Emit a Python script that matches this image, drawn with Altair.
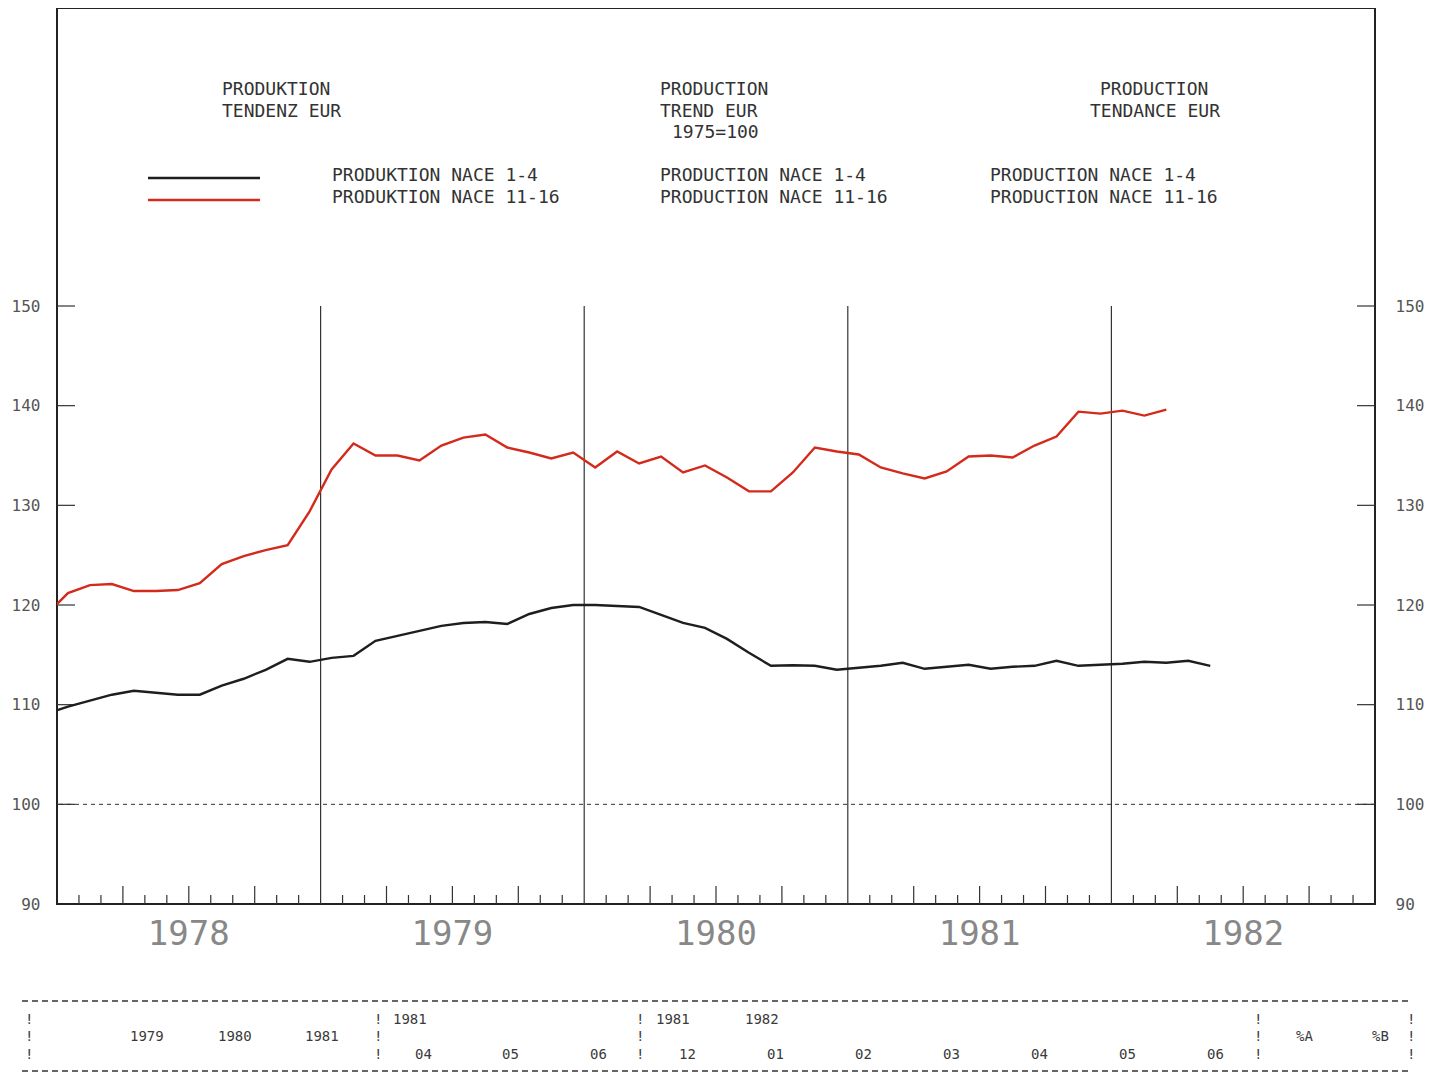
import altair as alt
import pandas as pd

# ---------------- data (monthly, starting Dec 1977, mid-month points) ----------------
red_values = [
    119.0,
    121.2, 122.0, 122.1, 121.4, 121.4, 121.5, 122.2, 124.1, 124.9, 125.5, 126.0, 129.4,
    133.6, 136.2, 135.0, 135.0, 134.5, 136.0, 136.8, 137.1, 135.8, 135.3, 134.7, 135.3,
    133.8, 135.4, 134.2, 134.9, 133.3, 134.0, 132.8, 131.4, 131.4, 133.3, 135.8, 135.4,
    135.1, 133.8, 133.2, 132.7, 133.4, 134.9, 135.0, 134.8, 136.0, 136.9, 139.4, 139.2,
    139.5, 139.0, 139.6,
]
black_values = [
    109.1,
    109.8, 110.4, 111.0, 111.4, 111.2, 111.0, 111.0, 111.9, 112.6, 113.5, 114.6, 114.3,
    114.7, 114.9, 116.4, 116.9, 117.4, 117.9, 118.2, 118.3, 118.1, 119.1, 119.7, 120.0,
    120.0, 119.9, 119.8, 119.0, 118.2, 117.7, 116.6, 115.2, 113.9, 113.95, 113.9, 113.5,
    113.7, 113.9, 114.2, 113.6, 113.8, 114.0, 113.6, 113.8, 113.9, 114.4, 113.9, 114.0,
    114.1, 114.3, 114.2, 114.4, 113.9,
]
series_names = ["PRODUKTION NACE 1-4", "PRODUKTION NACE 11-16"]
series_colors = ["#1e1e1e", "#d42a1c"]

y_tick_values = [90, 100, 110, 120, 130, 140, 150]
y_inner_ticks = [100, 110, 120, 130, 140, 150]
year_labels = [1978, 1979, 1980, 1981, 1982]
year_lines = [1979, 1980, 1981, 1982]


def month_pos(i):
    # i = 0 -> Dec 1977 (mid-month)
    return 1977 + (11 + i + 0.5) / 12


rows = []
for i, v in enumerate(black_values):
    rows.append({"t": month_pos(i), "v": v, "series": series_names[0]})
for i, v in enumerate(red_values):
    rows.append({"t": month_pos(i), "v": v, "series": series_names[1]})
df = pd.DataFrame(rows)

small_ticks = [y + m / 12 for y in year_labels for m in range(1, 12) if m % 3 != 0]
long_ticks = [y + m / 12 for y in year_labels for m in range(1, 12) if m % 3 == 0]

# ---------------- layout ----------------
W, H = 1318, 896
MONO = "DejaVu Sans Mono"
xscale = alt.Scale(domain=[1978, 1983], nice=False, zero=False)
yscale = alt.Scale(domain=[90, 179.9], nice=False, zero=False)
anchor = pd.DataFrame({"a": [0]})


def txt(s, x, y, size=18, color="#333333", align="left"):
    return alt.Chart(anchor).mark_text(
        align=align, baseline="middle", fontSize=size, font=MONO, color=color
    ).encode(x=alt.value(x), y=alt.value(y), text=alt.value(s))


dashed100 = alt.Chart(pd.DataFrame({"v": [100]})).mark_rule(
    strokeDash=[4, 4], color="#333333", strokeWidth=1
).encode(y=alt.Y("v:Q", scale=yscale, axis=None))

year_rules = alt.Chart(pd.DataFrame({"t": year_lines, "lo": [90] * 4, "hi": [150] * 4})).mark_rule(
    color="#333333", strokeWidth=1.2
).encode(
    x=alt.X("t:Q", scale=xscale, axis=None),
    y=alt.Y("lo:Q", scale=yscale, axis=None),
    y2="hi:Q",
)

small_tick_layer = alt.Chart(pd.DataFrame({"t": small_ticks})).mark_rule(
    color="#333333", strokeWidth=1.2
).encode(x=alt.X("t:Q", scale=xscale, axis=None), y=alt.value(H), y2=alt.value(H - 9))

long_tick_layer = alt.Chart(pd.DataFrame({"t": long_ticks})).mark_rule(
    color="#333333", strokeWidth=1.2
).encode(x=alt.X("t:Q", scale=xscale, axis=None), y=alt.value(H), y2=alt.value(H - 18))

# year labels under the frame, positioned through the x scale
year_text = alt.Chart(pd.DataFrame({"t": [y + 0.5 for y in year_labels],
                                    "lab": [str(y) for y in year_labels]})).mark_text(
    align="center", baseline="middle", fontSize=34, font=MONO, color="#888888"
).encode(x=alt.X("t:Q", scale=xscale, axis=None), y=alt.value(H + 31), text="lab:N")

axis_common = dict(
    values=y_tick_values, ticks=False, domain=False, grid=False, title=None,
    labelFont=MONO, labelFontSize=16, labelColor="#555555", labelFlush=False,
    labelOverlap=False,
)

left_ticks = alt.Chart(pd.DataFrame({"v": y_inner_ticks})).mark_rule(
    color="#333333", strokeWidth=1.2
).encode(
    y=alt.Y("v:Q", scale=yscale, axis=alt.Axis(orient="left", labelPadding=17, **axis_common)),
    x=alt.value(0), x2=alt.value(18),
)

right_ticks = alt.Chart(pd.DataFrame({"v": y_inner_ticks})).mark_rule(
    color="#333333", strokeWidth=1.2
).encode(
    y=alt.Y("v:Q", scale=yscale, axis=alt.Axis(orient="right", labelPadding=20, **axis_common)),
    x=alt.value(W - 18), x2=alt.value(W),
)

lines = alt.Chart(df).mark_line(strokeWidth=2.4, clip=True).encode(
    x=alt.X("t:Q", scale=xscale, axis=None),
    y=alt.Y("v:Q", scale=yscale, axis=None),
    color=alt.Color("series:N", scale=alt.Scale(domain=series_names, range=series_colors), legend=None),
    detail="series:N",
)

legend_black = alt.Chart(anchor).mark_rule(color=series_colors[0], strokeWidth=2.5).encode(
    x=alt.value(91), x2=alt.value(203), y=alt.value(170))
legend_red = alt.Chart(anchor).mark_rule(color=series_colors[1], strokeWidth=2.5).encode(
    x=alt.value(91), x2=alt.value(203), y=alt.value(192))

texts = [
    txt("PRODUKTION", 165, 82), txt("TENDENZ EUR", 165, 104),
    txt("PRODUCTION", 603, 82), txt("TREND EUR", 603, 104), txt("1975=100", 615, 125),
    txt("PRODUCTION", 1043, 82), txt("TENDANCE EUR", 1033, 104),
    txt("PRODUKTION NACE 1-4", 275, 168), txt("PRODUKTION NACE 11-16", 275, 190),
    txt("PRODUCTION NACE 1-4", 603, 168), txt("PRODUCTION NACE 11-16", 603, 190),
    txt("PRODUCTION NACE 1-4", 933, 168), txt("PRODUCTION NACE 11-16", 933, 190),
]

# ---------------- bottom table (plotter printout) ----------------
TY = [1012, 1029, 1047]
table_cells = []
for col in [-32, 317, 579, 1197, 1350]:
    for ty in TY:
        table_cells.append(("!", col, ty))
table_cells += [
    ("1981", 336, TY[0]), ("1981", 599, TY[0]), ("1982", 688, TY[0]),
    ("1979", 73, TY[1]), ("1980", 161, TY[1]), ("1981", 248, TY[1]),
    ("%A", 1239, TY[1]), ("%B", 1315, TY[1]),
]
for lab, col in zip(["04", "05", "06", "12", "01", "02", "03", "04", "05", "06"],
                    [358, 445, 533, 622, 710, 798, 886, 974, 1062, 1150]):
    table_cells.append((lab, col, TY[2]))
table_texts = [txt(s, x, y, size=14, color="#3a3a3a") for s, x, y in table_cells]

dash_top = alt.Chart(anchor).mark_rule(color="#333333", strokeWidth=1.5, strokeDash=[6, 4]).encode(
    x=alt.value(-35), x2=alt.value(1355), y=alt.value(993))
dash_bot = alt.Chart(anchor).mark_rule(color="#333333", strokeWidth=1.5, strokeDash=[6, 4]).encode(
    x=alt.value(-35), x2=alt.value(1355), y=alt.value(1063))

chart = alt.layer(
    dashed100, year_rules, small_tick_layer, long_tick_layer, left_ticks, right_ticks,
    lines, year_text, legend_black, legend_red, *texts, *table_texts, dash_top, dash_bot,
).resolve_axis(y="independent").properties(
    width=W, height=H, padding={"left": 3, "top": 0, "right": 0, "bottom": 0},
    background="white",
).configure_view(stroke="#222222", strokeWidth=2)

chart.save("out.html", embed_options={"renderer": "svg", "actions": False})
